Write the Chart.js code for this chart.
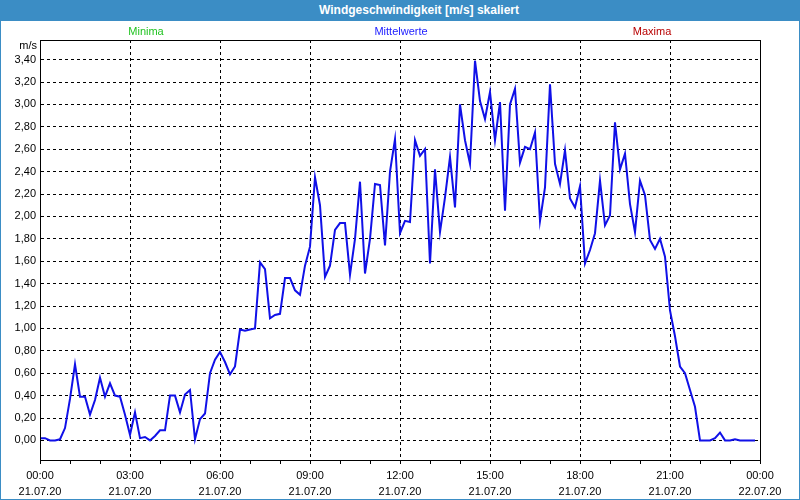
<!DOCTYPE html>
<html>
<head>
<meta charset="utf-8">
<script src="https://cdn.jsdelivr.net/npm/chart.js@4.4.1/dist/chart.umd.min.js"></script>
<style>
html,body{margin:0;padding:0;background:#fff;}
#wrap{position:relative;width:800px;height:500px;overflow:hidden;background:#fff;font-family:"Liberation Sans",Arial,sans-serif;}
#frame{position:absolute;left:0;top:0;width:800px;height:500px;box-sizing:border-box;border:1px solid #3b8dc5;pointer-events:none;}
#titlebar{position:absolute;left:0;top:0;width:800px;height:21px;background:#3b8dc5;}
#titlebar span{position:absolute;left:419px;top:0;transform:translateX(-50%);color:#fff;font-weight:bold;font-size:12px;line-height:21px;white-space:nowrap;}
.leg{position:absolute;top:25px;font-size:11px;line-height:13px;transform:translateX(-50%);white-space:nowrap;}
#unit{position:absolute;right:763px;top:39px;font-size:11px;line-height:13px;color:#000;}
canvas{position:absolute;left:0;top:0;}
</style>
</head>
<body>
<div id="wrap">
  <canvas id="c" width="800" height="500"></canvas>
  <div id="titlebar"><span id="ttl"></span></div>
  <div class="leg" id="legMin" style="left:146px;color:#22c322;"></div>
  <div class="leg" id="legMid" style="left:401px;color:#2020ff;"></div>
  <div class="leg" id="legMax" style="left:652px;color:#b80000;"></div>
  <div id="unit"></div>
  <div id="frame"></div>
</div>
<script>
const chartTitle = "Windgeschwindigkeit [m/s] skaliert";
const seriesNames = ["Minima", "Mittelwerte", "Maxima"];
const unitLabel = "m/s";

const times = [
 "00:00","00:10","00:20","00:30","00:40","00:50",
 "01:00","01:10","01:20","01:30","01:40","01:50",
 "02:00","02:10","02:20","02:30","02:40","02:50",
 "03:00","03:10","03:20","03:30","03:40","03:50",
 "04:00","04:10","04:20","04:30","04:40","04:50",
 "05:00","05:10","05:20","05:30","05:40","05:50",
 "06:00","06:10","06:20","06:30","06:40","06:50",
 "07:00","07:10","07:20","07:30","07:40","07:50",
 "08:00","08:10","08:20","08:30","08:40","08:50",
 "09:00","09:10","09:20","09:30","09:40","09:50",
 "10:00","10:10","10:20","10:30","10:40","10:50",
 "11:00","11:10","11:20","11:30","11:40","11:50",
 "12:00","12:10","12:20","12:30","12:40","12:50",
 "13:00","13:10","13:20","13:30","13:40","13:50",
 "14:00","14:10","14:20","14:30","14:40","14:50",
 "15:00","15:10","15:20","15:30","15:40","15:50",
 "16:00","16:10","16:20","16:30","16:40","16:50",
 "17:00","17:10","17:20","17:30","17:40","17:50",
 "18:00","18:10","18:20","18:30","18:40","18:50",
 "19:00","19:10","19:20","19:30","19:40","19:50",
 "20:00","20:10","20:20","20:30","20:40","20:50",
 "21:00","21:10","21:20","21:30","21:40","21:50",
 "22:00","22:10","22:20","22:30","22:40","22:50",
 "23:00","23:10","23:20","23:30","23:40","23:50"
];

const meanSpeed = [
 0.02,0.02,0.00,0.00,0.01,0.11,
 0.37,0.68,0.39,0.39,0.23,0.36,
 0.56,0.39,0.51,0.40,0.39,0.23,
 0.05,0.25,0.02,0.03,0.00,0.04,
 0.09,0.09,0.40,0.40,0.25,0.41,
 0.45,0.01,0.19,0.24,0.60,0.72,
 0.79,0.70,0.59,0.66,0.99,0.98,
 0.99,1.00,1.59,1.53,1.09,1.12,
 1.13,1.45,1.45,1.34,1.30,1.56,
 1.73,2.35,2.10,1.46,1.56,1.88,
 1.94,1.94,1.48,1.80,2.31,1.49,
 1.80,2.29,2.28,1.74,2.40,2.69,
 1.85,1.96,1.95,2.68,2.54,2.60,
 1.58,2.42,1.86,2.17,2.53,2.08,
 3.00,2.68,2.47,3.39,3.03,2.87,
 3.11,2.68,3.02,2.05,3.00,3.14,
 2.48,2.62,2.60,2.75,1.96,2.26,
 3.18,2.47,2.29,2.59,2.16,2.08,
 2.27,1.58,1.70,1.85,2.32,1.92,
 2.01,2.84,2.42,2.56,2.11,1.86,
 2.32,2.19,1.79,1.71,1.80,1.64,
 1.16,0.93,0.66,0.60,0.45,0.30,
 0.00,0.00,0.00,0.02,0.07,0.00,
 0.00,0.01,0.00,0.00,0.00,0.00
];

// x axis: hour ticks (minutes of the day), labelled every 3 hours
const hourTicks = [0,60,120,180,240,300,360,420,480,540,600,660,720,780,840,900,960,1020,1080,1140,1200,1260,1320,1380,1440];
const labelTicks = [0,180,360,540,720,900,1080,1260,1440];
const labelTimes = ["00:00","03:00","06:00","09:00","12:00","15:00","18:00","21:00","00:00"];
const labelDates = ["21.07.20","21.07.20","21.07.20","21.07.20","21.07.20","21.07.20","21.07.20","21.07.20","22.07.20"];
const yTicks = [0,0.2,0.4,0.6,0.8,1.0,1.2,1.4,1.6,1.8,2.0,2.2,2.4,2.6,2.8,3.0,3.2,3.4];

document.getElementById('ttl').textContent = chartTitle;
document.getElementById('legMin').textContent = seriesNames[0];
document.getElementById('legMid').textContent = seriesNames[1];
document.getElementById('legMax').textContent = seriesNames[2];
document.getElementById('unit').textContent = unitLabel;

function toMinutes(t){ const p = t.split(':'); return (+p[0])*60 + (+p[1]); }
const points = times.map((t,i) => ({x: toMinutes(t), y: meanSpeed[i]}));

const FONT = {family: '"Liberation Sans", Arial, sans-serif', size: 11};

const boxPlugin = {
  id: 'box',
  afterDraw(c){
    const a = c.chartArea, ctx = c.ctx;
    ctx.save();
    ctx.setLineDash([]);
    ctx.strokeStyle = '#000';
    ctx.lineWidth = 1;
    const l = Math.round(a.left)+0.5, t = Math.round(a.top)+0.5;
    const r = Math.round(a.right)+0.5, b = Math.round(a.bottom)+0.5;
    ctx.strokeRect(l, t, r-l, b-t);
    ctx.restore();
  }
};

new Chart(document.getElementById('c'), {
  type: 'line',
  data: {
    datasets: [{
      label: seriesNames[1],
      data: points,
      borderColor: '#1010e8',
      borderWidth: 2,
      pointRadius: 0,
      tension: 0,
      fill: false
    }]
  },
  options: {
    responsive: false,
    animation: false,
    layout: {padding: {left: 0, right: 40, top: 40, bottom: 0}},
    plugins: {legend: {display: false}, tooltip: {enabled: false}, title: {display: false}},
    scales: {
      x: {
        type: 'linear',
        min: 0, max: 1440,
        afterBuildTicks: s => { s.ticks = hourTicks.map(v => ({value: v})); },
        afterFit: s => { s.height = 40; },
        ticks: {
          autoSkip: false, maxRotation: 0, minRotation: 0,
          color: '#000', font: {family: FONT.family, size: 11, lineHeight: 1.45},
          padding: 4,
          callback: v => { const k = labelTicks.indexOf(v); return k >= 0 ? [labelTimes[k], labelDates[k]] : ''; }
        },
        grid: {
          color: ctx => (ctx.tick && labelTicks.indexOf(ctx.tick.value) >= 0) ? '#000' : 'rgba(0,0,0,0)',
          lineWidth: 1,
          drawTicks: true, tickLength: 4, tickColor: '#000', tickBorderDash: [],
          borderDash: [3,3]
        },
        border: {display: true, color: '#000', dash: [3,3]}
      },
      y: {
        type: 'linear',
        min: -0.175, max: 3.575,
        afterBuildTicks: s => { s.ticks = yTicks.map(v => ({value: v})); },
        afterFit: s => { s.width = 40; },
        ticks: {
          color: '#000', font: FONT, padding: 4,
          callback: v => v.toFixed(2).replace('.', ',')
        },
        grid: {color: '#000', lineWidth: 1, drawTicks: false, borderDash: [3,3]},
        border: {display: true, color: '#000', dash: [3,3]}
      }
    }
  },
  plugins: [boxPlugin]
});
</script>
</body>
</html>
